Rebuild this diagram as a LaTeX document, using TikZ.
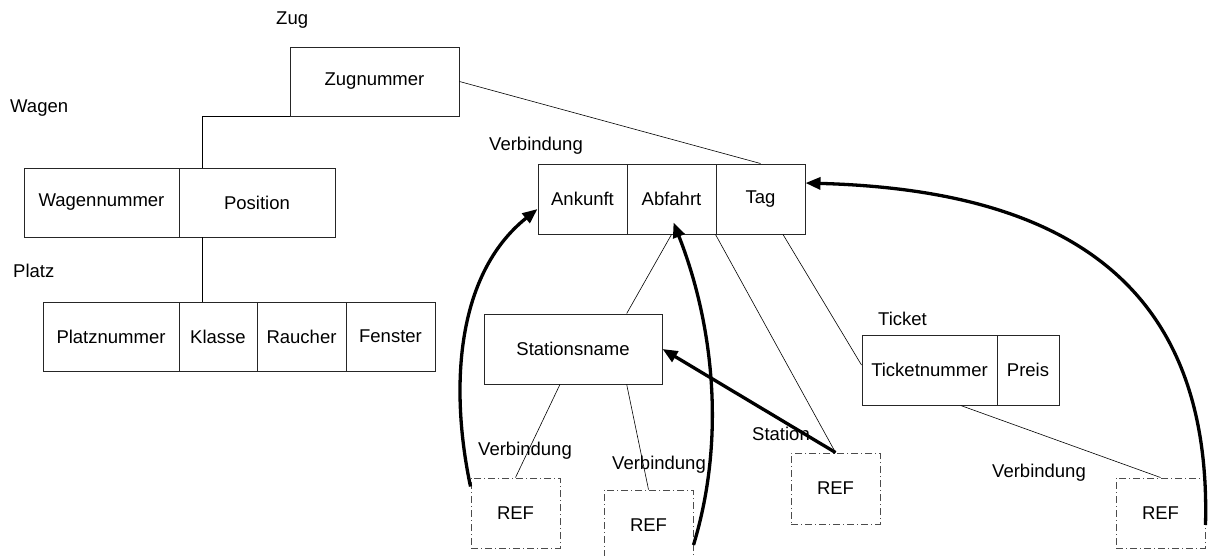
\documentclass[tikz,border=0pt]{standalone}
\usepackage{fontspec}
\setmainfont{Liberation Sans}
\usetikzlibrary{arrows.meta,calc}
\begin{document}
\begin{tikzpicture}[x=1pt,y=-1pt,
  font=\fontsize{18.5}{22}\selectfont,
  cell/.style={draw=black!85,line width=1pt,minimum height=69pt,inner sep=0pt,anchor=center},
  refbox/.style={draw=black!70,line width=1pt,dash pattern=on 7pt off 3pt on 1pt off 3pt,
    minimum width=89pt,minimum height=70pt,inner sep=0pt},
  tag/.style={anchor=base west,inner sep=0pt},
  link/.style={draw=black,line width=0.6pt},
  refarrow/.style={draw=black,line width=3.3pt,-{Triangle[length=15pt,width=12pt]}}]
\useasboundingbox (0,0) rectangle (1211,555);

% Zug
\node[tag] (lzug) at (276,24) {Zug};
\node[cell,minimum width=169pt] (zugnr) at (374.5,81.5) {Zugnummer};

% Wagen
\node[tag] (lwagen) at (10,112) {Wagen};
\node[cell,minimum width=155pt] (wnr) at (101.5,202.5) {Wagennummer};
\node[cell,minimum width=156pt] (pos) at (257,202.5) {Position};

% Platz
\node[tag] (lplatz) at (13,277) {Platz};
\node[cell,minimum width=136pt] (pnr) at (111,336.5) {Platznummer};
\node[cell,minimum width=78pt] (kl) at (218,336.5) {Klasse};
\node[cell,minimum width=89pt] (rau) at (301.5,336.5) {Raucher};
\node[cell,minimum width=89pt] (fen) at (390.5,336.5) {Fenster};

% Verbindung
\node[tag] (lverb) at (489,150) {Verbindung};
\node[cell,minimum width=89pt,minimum height=70pt] (ank) at (582.5,199) {Ankunft};
\node[cell,minimum width=89pt,minimum height=70pt] (abf) at (671.5,199) {Abfahrt};
\node[cell,minimum width=89pt,minimum height=70pt] (tagc) at (760.5,199) {Tag};

% Station
\node[cell,minimum width=178pt,minimum height=70pt] (stn) at (573,349) {Stationsname};

% Ticket
\node[tag] (lticket) at (878,325) {Ticket};
\node[cell,minimum width=135pt,minimum height=70pt] (tnr) at (929.5,370) {Ticketnummer};
\node[cell,minimum width=62pt,minimum height=70pt] (preis) at (1028,370) {Preis};

% references
\node[refbox] (ref1) at (515.5,513) {REF};
\node[refbox] (ref2) at (648.5,525) {REF};
\node[refbox,minimum height=71pt] (ref3) at (835.5,488.5) {REF};
\node[refbox] (ref4) at (1160.5,513) {REF};
\node[tag] (lr1) at (478,455) {Verbindung};
\node[tag] (lr2) at (612,469) {Verbindung};
\node[tag] (lr3) at (752,440) {Station};
\node[tag] (lr4) at (992,477) {Verbindung};

% hierarchy links
\coordinate (wtop) at (202,168);
\coordinate (wbot) at (202,237);
\draw[link] (zugnr.south west) -| (wtop);
\draw[link] (wbot) -- (wbot |- kl.north);
\draw[link] (zugnr.east) -- (tagc.north);
\draw[link] (abf.south) -- ($(stn.north west)!0.8!(stn.north east)$);
\draw[link] (tagc.south west) -- (ref3.north);
\draw[link] ($(tagc.south west)!0.75!(tagc.south east)$) -- ($(tnr.west)+(0,-5)$);
\draw[link] ($(tnr.south west)!0.73!(tnr.south east)$) -- (ref4.north);
\draw[link] ($(stn.south west)!0.427!(stn.south east)$) -- (ref1.north);
\draw[link] ($(stn.south west)!0.8!(stn.south east)$) -- (ref2.north);

% reference arrows
\draw[refarrow] ($(ref1.north west)+(0,9)$) .. controls (450,390) and (455,275) .. ($(ank.west)+(0,10)$);
\draw[refarrow] ($(ref2.east)+(0,20)$) .. controls (727,435) and (712,320) .. ($(abf.south)+(2,-12)$);
\draw[refarrow] (ref3.north) -- (stn.east);
\draw[refarrow] ($(ref4.east)+(0,12)$) .. controls (1212,280) and (1060,190) .. ($(tagc.east)+(0,-16)$);
\end{tikzpicture}
\end{document}
